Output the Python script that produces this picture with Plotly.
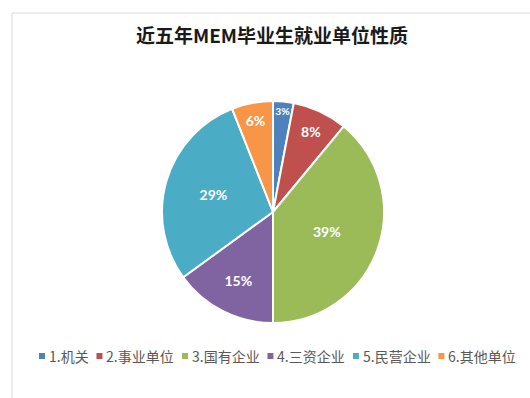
import plotly.graph_objects as go

# Employment sector shares of MEM graduates over the last five years (%)
categories = ["1.机关", "2.事业单位", "3.国有企业", "4.三资企业", "5.民营企业", "6.其他单位"]
shares = [3, 8, 39, 15, 29, 6]
colors = ["#4F81BD", "#C0504D", "#9BBB59", "#8064A2", "#4BACC6", "#F79646"]

W, H = 530, 398


def px_x(p):
    return p / W


def px_y(p):
    return 1 - p / H


fig = go.Figure(
    go.Pie(
        labels=categories,
        values=shares,
        sort=False,
        direction="clockwise",
        rotation=0,
        marker=dict(colors=colors, line=dict(color="white", width=2)),
        texttemplate="%{value}%",
        textposition="inside",
        insidetextorientation="horizontal",
        textfont=dict(family="Lato", size=14, color="white", weight="bold"),
        hoverinfo="label+percent",
        showlegend=False,
        domain=dict(x=[px_x(162), px_x(384)], y=[px_y(323), px_y(101)]),
    )
)

# Horizontal legend row: small colour square followed by the category name
LEG_FONT = 14
LEG_Y = 356
KEY = 6


def text_width(s, size=LEG_FONT):
    w = 0.0
    for ch in s:
        if ord(ch) > 0x2E80:
            w += size
        elif ch == ".":
            w += size * 0.27
        else:
            w += size * 0.55
    return w


shapes = []
annotations = []
x = 39.0
for name, col in zip(categories, colors):
    shapes.append(
        dict(
            type="rect", xref="paper", yref="paper",
            x0=px_x(x), x1=px_x(x + KEY),
            y0=px_y(LEG_Y + KEY / 2), y1=px_y(LEG_Y - KEY / 2),
            fillcolor=col, line=dict(width=0),
        )
    )
    annotations.append(
        dict(
            text=name, xref="paper", yref="paper",
            x=px_x(x + KEY + 2), y=px_y(LEG_Y),
            xanchor="left", yanchor="middle", showarrow=False,
            font=dict(family="Noto Sans CJK SC", size=LEG_FONT, color="#595959"),
        )
    )
    x += KEY + 2 + text_width(name) + 10

# Chart-area frame
shapes.append(
    dict(
        type="rect", xref="paper", yref="paper",
        x0=px_x(12), y0=-0.2, x1=1.2, y1=px_y(13),
        line=dict(color="#d9d9d9", width=1),
        fillcolor="rgba(0,0,0,0)", layer="below",
    )
)

fig.update_layout(
    width=W,
    height=H,
    margin=dict(l=0, r=0, t=0, b=0),
    paper_bgcolor="white",
    plot_bgcolor="white",
    title=dict(
        text="近五年MEM毕业生就业单位性质",
        x=px_x(272),
        y=px_y(36),
        xanchor="center",
        yanchor="middle",
        font=dict(family="Noto Sans CJK SC", size=19, color="#1a1a1a", weight="bold"),
    ),
    shapes=shapes,
    annotations=annotations,
)

fig.write_html("out.html")
